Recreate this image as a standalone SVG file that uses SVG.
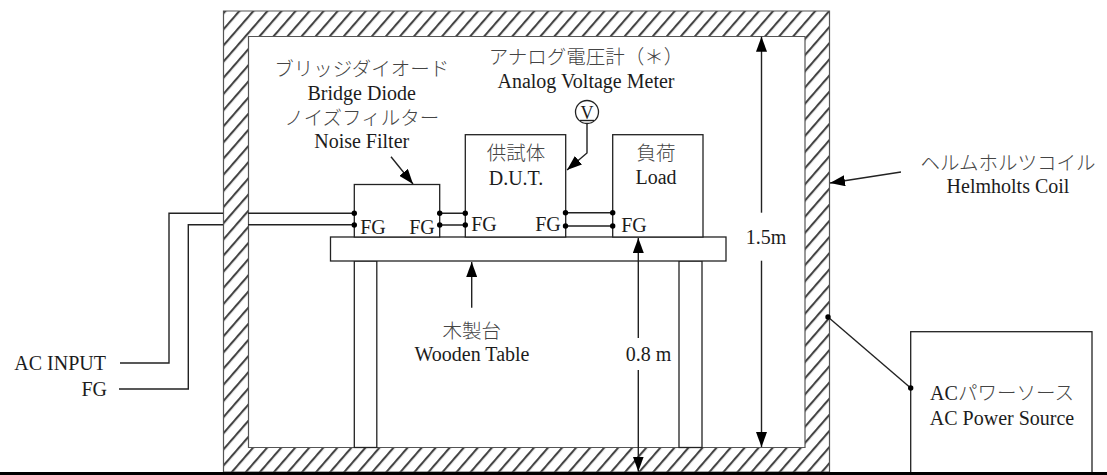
<svg xmlns="http://www.w3.org/2000/svg" width="1107" height="475" viewBox="0 0 1107 475">
<style>
text{font-family:"Liberation Serif","Noto Sans CJK JP",serif;font-size:20px;fill:#1c1c1c;text-anchor:middle}
.k{font-size:19.500px;font-weight:300;fill:#444}
.e{text-anchor:end}
.b{fill:#fff;stroke:#222;stroke-width:1.300}
.l{fill:none;stroke:#222;stroke-width:1.400}
.d{fill:#000}
</style>
<defs>
<pattern id="h" width="10.600" height="10.600" patternUnits="userSpaceOnUse" patternTransform="translate(224 11) rotate(-49)">
<rect width="10.600" height="10.600" fill="#fff"/><rect width="10.600" height="2.100" fill="#444"/>
</pattern>
<marker id="a" markerWidth="15" markerHeight="11" refX="15" refY="5.500" markerUnits="userSpaceOnUse" orient="auto" viewBox="0 0 15 11"><path d="M0 0L15 5.500L0 11z"/></marker>
</defs>
<g id="wall"><path fill="url(#h)" fill-rule="evenodd" stroke="#555" stroke-width="1.200" d="M223.500 11H829.500V472H223.500zM248.500 36.500V447.500H805V36.500z"/></g>
<g id="table"><rect class="b" x="354.300" y="261" width="22.500" height="186.500"/><rect class="b" x="679" y="261" width="23" height="186.500"/><rect class="b" x="330.500" y="237" width="395.500" height="24"/></g>
<g id="filter"><rect class="b" x="354.300" y="184.500" width="85.400" height="52.500"/><text x="373" y="234">FG</text><text x="422" y="234">FG</text></g>
<g id="dut"><rect class="b" x="465.300" y="134.700" width="100.400" height="102.300"/><text class="k" x="516" y="160">供試体</text><text x="516" y="185">D.U.T.</text><text x="484" y="231">FG</text><text x="548" y="231">FG</text></g>
<g id="load"><rect class="b" x="612.700" y="134.700" width="90.300" height="102.300"/><text class="k" x="656" y="160">負荷</text><text x="656" y="184">Load</text><text x="634" y="232">FG</text></g>
<g id="source"><rect class="b" x="910.700" y="331.700" width="181.300" height="142"/><text x="1002" y="400">AC<tspan class="k">パワーソース</tspan></text><text x="1002" y="425">AC Power Source</text></g>
<g id="meter"><circle cx="587" cy="112" r="11.500" fill="#fff" stroke="#222" stroke-width="1.300"/><text x="587" y="119" style="font-size:18px">V</text><path class="l" d="M580 120.500H594"/></g>
<g id="connectors">
<path class="l" d="M120 363H169V213.300H223M119 389H188.300V224.800H223M248 213.300H354M248 224.800H354M440 213.300H465M440 225H465M565.500 212.700H612.700M565.500 226H612.700"/>
<path class="l" d="M587 123.500V153L567 170" marker-end="url(#a)"/>
<path class="l" d="M391 156.700L413 184" marker-end="url(#a)"/>
<path class="l" d="M901 172L830 183" marker-end="url(#a)"/>
<path class="l" d="M471.700 307.700V262" marker-end="url(#a)"/>
<path class="l" d="M638.300 338V238" marker-end="url(#a)"/>
<path class="l" d="M638.300 370V471.500" marker-end="url(#a)"/>
<path class="l" d="M761.500 212.700V36.700" marker-end="url(#a)"/>
<path class="l" d="M761.500 260.700V447" marker-end="url(#a)"/>
<path class="l" d="M828 317L910.700 388"/>
<g class="d"><circle cx="354.300" cy="213.300" r="2.700"/><circle cx="354.300" cy="225" r="2.700"/><circle cx="439.700" cy="213.300" r="2.700"/><circle cx="439.700" cy="225" r="2.700"/><circle cx="465.300" cy="213.300" r="2.700"/><circle cx="465.300" cy="225" r="2.700"/><circle cx="565.500" cy="212.700" r="2.700"/><circle cx="565.500" cy="226" r="2.700"/><circle cx="612.700" cy="212.700" r="2.700"/><circle cx="612.700" cy="226" r="2.700"/><circle cx="828" cy="317" r="2.700"/><circle cx="910.700" cy="388" r="2.700"/></g>
</g>
<g id="labels">
<text class="k" x="361.700" y="76">ブリッジダイオード</text><text x="361.700" y="100">Bridge Diode</text><text class="k" x="361.700" y="125">ノイズフィルター</text><text x="361.700" y="148">Noise Filter</text>
<text class="k" x="586" y="64">アナログ電圧計（＊）</text><text x="586" y="88">Analog Voltage Meter</text>
<text class="k" x="1008" y="170">ヘルムホルツコイル</text><text x="1008" y="193">Helmholts Coil</text>
<text class="k" x="471.700" y="338">木製台</text><text x="472" y="361">Wooden Table</text>
<text x="648.500" y="361">0.8 m</text><text x="766" y="244">1.5m</text>
<text class="e" x="106" y="370">AC INPUT</text><text class="e" x="107" y="396">FG</text>
</g>
<rect id="ground" x="0" y="472" width="1107" height="3" fill="#000"/>
</svg>
